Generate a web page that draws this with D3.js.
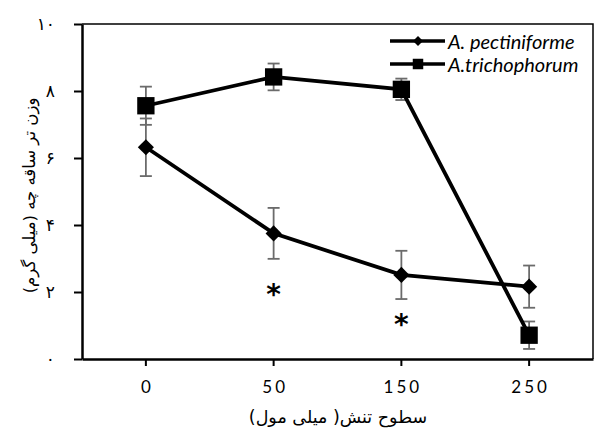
<!DOCTYPE html>
<html>
<head>
<meta charset="utf-8">
<script src="https://cdn.jsdelivr.net/npm/d3@7"></script>
<style>
  body { margin: 0; background: #fff; }
  svg { display: block; }
  .fa { font-family: "DejaVu Sans", sans-serif; }
</style>
</head>
<body>
<div id="chart"></div>
<script>
// stress levels (millimolar) and shoot fresh weight (mg)
const stressLevels = ["0", "50", "150", "250"];
const pectiniforme = [6.32, 3.75, 2.51, 2.16];
const pectiniformeErr = [0.86, 0.76, 0.72, 0.63];
const trichophorum = [7.56, 8.42, 8.05, 0.71];
const trichophorumErr = [0.57, 0.40, 0.32, 0.41];
const starLevels = [null, 2.05, 1.15, null]; // where the significance stars sit
const yTicks = [0, 2, 4, 6, 8, 10];

const width = 595, height = 430;
const margin = {top: 24, right: 2, bottom: 71, left: 82};

const svg = d3.select('#chart').append('svg')
    .attr('width', width)
    .attr('height', height);

const x = d3.scaleBand()
    .domain(stressLevels)
    .range([margin.left, width - margin.right]);

const y = d3.scaleLinear()
    .domain([0, 10])
    .range([height - margin.bottom, margin.top]);

const toFa = n => String(n).replace(/\d/g, d => '۰۱۲۳۴۵۶۷۸۹'[d]);
const cx = d => x(d) + x.bandwidth() / 2;

// frame top + right
svg.append('path')
    .attr('d', `M${margin.left},${margin.top}H${width - margin.right}V${height - margin.bottom}`)
    .attr('fill', 'none')
    .attr('stroke', '#000')
    .attr('stroke-width', 1.5);

// axes
const yAxis = svg.append('g')
    .attr('transform', `translate(${margin.left},0)`)
    .call(d3.axisLeft(y).tickValues(yTicks).tickFormat(toFa).tickSize(8).tickSizeOuter(0).tickPadding(19));
yAxis.select('.domain').attr('stroke-width', 2.5);
yAxis.selectAll('.tick line').attr('stroke-width', 2);
yAxis.selectAll('text').attr('class', 'fa').attr('font-size', 17);

const xAxis = svg.append('g')
    .attr('transform', `translate(0,${height - margin.bottom})`)
    .call(d3.axisBottom(x).tickSize(7).tickSizeOuter(0).tickPadding(15));
xAxis.select('.domain').attr('stroke-width', 2.5);
xAxis.selectAll('.tick line').attr('stroke-width', 2);
xAxis.selectAll('text')
    .attr('font-family', 'Lato, sans-serif')
    .attr('font-size', 17)
    .attr('letter-spacing', 3)
    .attr('dx', 1.5);

// axis titles
svg.append('text')
    .attr('class', 'fa')
    .attr('transform', `translate(29,${(margin.top + height - margin.bottom) / 2 + 4}) rotate(-90)`)
    .attr('text-anchor', 'middle')
    .attr('dominant-baseline', 'central')
    .attr('font-size', 16.5)
    .text('وزن تر ساقه چه (میلی گرم)');

svg.append('text')
    .attr('class', 'fa')
    .attr('x', 338)
    .attr('y', 417)
    .attr('text-anchor', 'middle')
    .attr('dominant-baseline', 'central')
    .attr('font-size', 17.5)
    .text('سطوح تنش( میلی مول)');

const series = [
    {name: 'A. pectiniforme', values: pectiniforme, err: pectiniformeErr, symbol: d3.symbolSquare, size: 130, rotate: 45, legendSize: 50},
    {name: 'A.trichophorum', values: trichophorum, err: trichophorumErr, symbol: d3.symbolSquare, size: 300, rotate: 0, legendSize: 110}
];

const line = d3.line()
    .x((d, i) => cx(stressLevels[i]))
    .y(d => y(d));

// error bars first so markers cover them
series.forEach(s => {
    const g = svg.append('g').attr('stroke', '#6b6b6b').attr('stroke-width', 1.8);
    s.values.forEach((v, i) => {
        const px = cx(stressLevels[i]);
        const lo = y(v - s.err[i]), hi = y(v + s.err[i]);
        g.append('line').attr('x1', px).attr('x2', px).attr('y1', lo).attr('y2', hi);
        g.append('line').attr('x1', px - 6).attr('x2', px + 6).attr('y1', lo).attr('y2', lo);
        g.append('line').attr('x1', px - 6).attr('x2', px + 6).attr('y1', hi).attr('y2', hi);
    });
});

series.forEach(s => {
    svg.append('path')
        .datum(s.values)
        .attr('d', line)
        .attr('fill', 'none')
        .attr('stroke', '#000')
        .attr('stroke-width', 3.8);
    svg.selectAll(null)
        .data(s.values)
        .join('path')
        .attr('transform', (d, i) => `translate(${cx(stressLevels[i])},${y(d)}) rotate(${s.rotate})`)
        .attr('d', d3.symbol(s.symbol, s.size))
        .attr('fill', '#000');
});

// significance stars
svg.selectAll('.star')
    .data(starLevels.map((v, i) => ({v, i})).filter(d => d.v !== null))
    .join('text')
    .attr('class', 'star')
    .attr('x', d => cx(stressLevels[d.i]))
    .attr('y', d => y(d.v) + 14)
    .attr('text-anchor', 'middle')
    .attr('font-family', 'DejaVu Sans, sans-serif')
    .attr('font-weight', 'bold')
    .attr('font-size', 28)
    .text('*');

// legend
const legend = svg.append('g');
series.forEach((s, i) => {
    const ly = 41 + i * 23;
    legend.append('line')
        .attr('x1', 390).attr('x2', 445)
        .attr('y1', ly).attr('y2', ly)
        .attr('stroke', '#000').attr('stroke-width', 3.5);
    legend.append('path')
        .attr('transform', `translate(418,${ly}) rotate(${s.rotate})`)
        .attr('d', d3.symbol(s.symbol, s.legendSize))
        .attr('fill', '#000');
    legend.append('text')
        .attr('x', 448)
        .attr('y', ly)
        .attr('dominant-baseline', 'central')
        .attr('font-family', 'Lato, sans-serif')
        .attr('font-style', 'italic')
        .attr('font-size', 20)
        .text(s.name);
});
</script>
</body>
</html>
